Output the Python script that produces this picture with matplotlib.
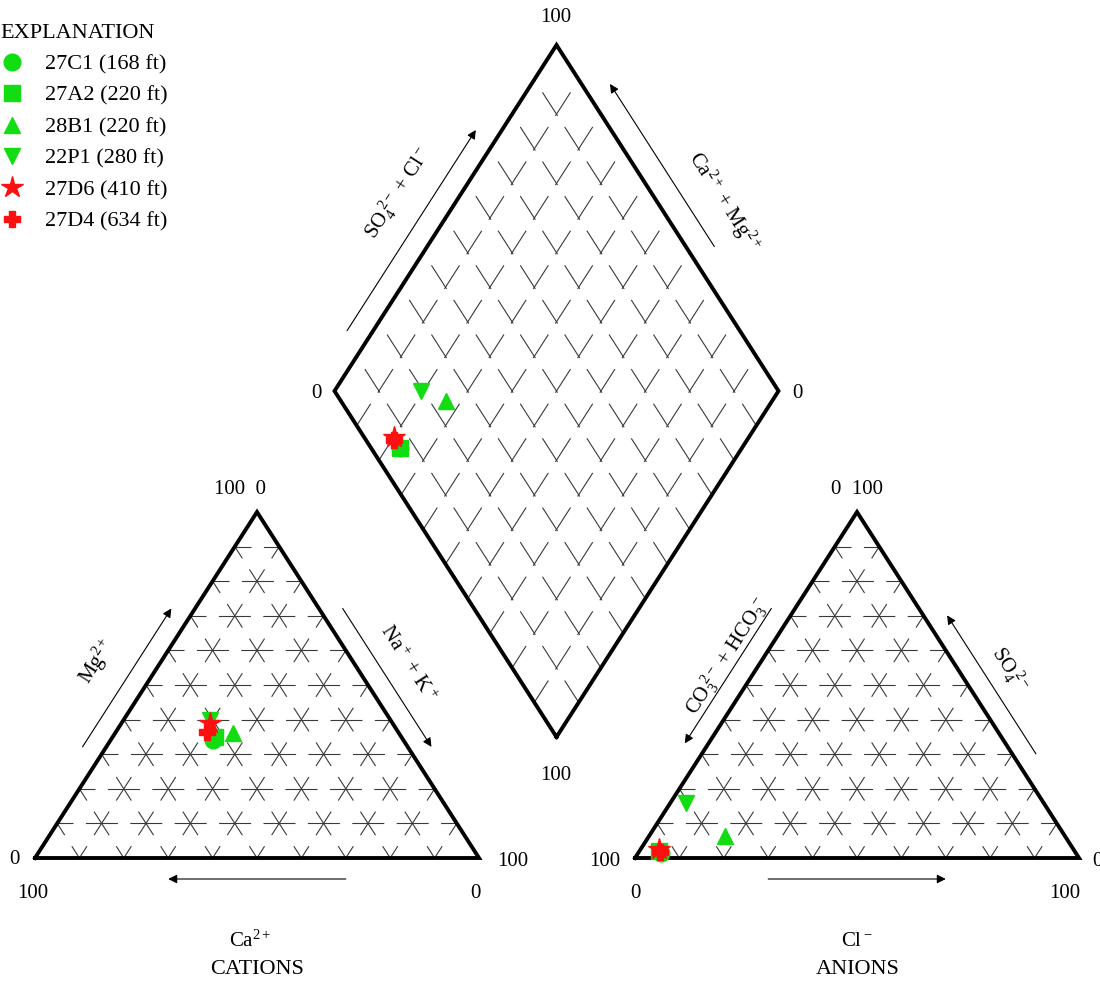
import matplotlib
matplotlib.use('Agg')
import matplotlib.pyplot as plt
from matplotlib.lines import Line2D
import numpy as np

# Datos de las muestras (porcentajes de meq/L)
samples = ['27C1 (168 ft)', '27A2 (220 ft)', '28B1 (220 ft)', '22P1 (280 ft)', '27D6 (410 ft)', '27D4 (634 ft)']
ca = [43.0, 42.0, 37.5, 40.5, 41.0, 43.0]
mg = [34.0, 35.0, 36.0, 40.0, 39.0, 36.5]
na_k = [23.0, 23.0, 26.5, 19.5, 20.0, 20.5]
cl = [5.0, 4.5, 17.0, 3.5, 4.0, 4.7]
so4 = [1.5, 2.0, 6.5, 16.0, 2.6, 1.7]
hco3 = [93.5, 93.5, 76.5, 80.5, 93.4, 93.6]

markers = ['o', 's', '^', 'v', '*', 'P']
colors = ['#12dd12', '#12dd12', '#12dd12', '#12dd12', '#ff1010', '#ff1010']
msizes = [12, 12, 11, 11, 16, 12]

# Geometria (pixeles)
W = 444.0
H = 346.0
TL = (35.0, 858.0)    # vertice inferior izquierdo, triangulo de cationes
TR = (635.0, 858.0)   # vertice inferior izquierdo, triangulo de aniones
DB = (556.5, 737.0)   # vertice inferior del rombo

plt.rcParams['font.family'] = ['Liberation Serif', 'DejaVu Serif']
plt.rcParams['mathtext.fontset'] = 'custom'
plt.rcParams['mathtext.rm'] = 'Liberation Serif'
plt.rcParams['mathtext.it'] = 'Liberation Serif:italic'
plt.rcParams['lines.scale_dashes'] = False


def cat_xy(n, m):
    return TL[0] + W * (n + m / 2) / 100, TL[1] - H * m / 100


def an_xy(c, s):
    return TR[0] + W * (c + s / 2) / 100, TR[1] - H * s / 100


def dia_xy(a, c):
    return DB[0] + (a - c) * W / 2 / 100, DB[1] - (a + c) * H / 100


fig = plt.figure(figsize=(11, 9.85), dpi=100)
ax = fig.add_axes([0, 0, 1, 1])
ax.set_xlim(0, 1100)
ax.set_ylim(985, 0)
ax.axis('off')

px = 0.72  # puntos por pixel
slant = np.hypot(W / 20, H / 10)
dash_h = (16 * px, (32 * px, (W / 10 - 32) * px))
dash_s = (14 * px, (28 * px, (slant - 28) * px))
dash_d = (2 * px, (28 * px, (slant - 28) * px))
gkw = dict(color='#3a3a3a', lw=0.8)

# Rejillas de los triangulos
for xy in (cat_xy, an_xy):
    for i in range(10, 100, 10):
        # horizontal
        p, q = xy(0, i), xy(100 - i, i)
        ax.plot([p[0], q[0]], [p[1], q[1]], ls=dash_h, **gkw)
        # paralela al lado izquierdo
        p, q = xy(i, 0), xy(i, 100 - i)
        ax.plot([p[0], q[0]], [p[1], q[1]], ls=dash_s, **gkw)
        # paralela al lado derecho
        p, q = xy(0, i), xy(i, 0)
        ax.plot([q[0], p[0]], [q[1], p[1]], ls=dash_s, **gkw)
    corners = [xy(0, 0), xy(100, 0), xy(0, 100), xy(0, 0)]
    ax.plot([c[0] for c in corners], [c[1] for c in corners], color='k', lw=2.8,
            solid_joinstyle='miter')

# Rejilla del rombo
for i in range(10, 100, 10):
    p, q = dia_xy(i, 0), dia_xy(i, 100)
    ax.plot([p[0], q[0]], [p[1], q[1]], ls=dash_d, **gkw)
    p, q = dia_xy(0, i), dia_xy(100, i)
    ax.plot([p[0], q[0]], [p[1], q[1]], ls=dash_d, **gkw)
corners = [dia_xy(0, 0), dia_xy(100, 0), dia_xy(100, 100), dia_xy(0, 100), dia_xy(0, 0)]
ax.plot([c[0] for c in corners], [c[1] for c in corners], color='k', lw=2.8,
        solid_joinstyle='miter')


def edge_arrow(p, q, t0, t1, d):
    # flecha paralela al lado p->q, desplazada d pixeles hacia fuera
    p, q = np.array(p), np.array(q)
    v = q - p
    n = np.array([v[1], -v[0]]) / np.hypot(*v)
    a = p + t0 * v + d * n
    b = p + t1 * v + d * n
    ax.annotate('', xy=b, xytext=a,
                arrowprops=dict(arrowstyle='-|>', lw=0.8, color='k',
                                mutation_scale=13, shrinkA=0, shrinkB=0))


# Flechas
edge_arrow(cat_xy(0, 0), cat_xy(0, 100), 0.29, 0.69, 20)
edge_arrow(cat_xy(0, 100), cat_xy(100, 0), 0.31, 0.71, 20)
edge_arrow(cat_xy(100, 0), cat_xy(0, 0), 0.30, 0.70, 21)
edge_arrow(an_xy(0, 100), an_xy(0, 0), 0.31, 0.70, -20)
edge_arrow(an_xy(100, 0), an_xy(0, 100), 0.27, 0.67, -20)
edge_arrow(an_xy(0, 0), an_xy(100, 0), 0.30, 0.70, -21)
edge_arrow(dia_xy(0, 100), dia_xy(100, 100), 0.14, 0.72, 22)
edge_arrow(dia_xy(100, 0), dia_xy(100, 100), 0.38, 0.85, -24)

# Etiquetas de los ejes
tk = dict(fontsize=15, ha='center', va='center')
ax.text(240, 489, '100  0', **tk)
ax.text(14, 860, '0', **tk)
ax.text(33, 893, '100', **tk)
ax.text(513, 862, '100', **tk)
ax.text(475, 893, '0', **tk)
ax.text(857, 489, '0  100', **tk)
ax.text(605, 862, '100', **tk)
ax.text(635, 893, '0', **tk)
ax.text(1097, 862, '0', **tk)
ax.text(1065, 893, '100', **tk)
ax.text(556, 18, '100', **tk)
ax.text(316, 393, '0', **tk)
ax.text(797, 393, '0', **tk)
ax.text(556, 775, '100', **tk)

lk = dict(fontsize=15, ha='center', va='center')
ax.text(97, 662, r'Mg$^{2+}$', rotation=57.3, rotation_mode='anchor', **lk)
ax.text(407, 664, r'Na$^+$ + K$^+$', rotation=-57.3, rotation_mode='anchor', **lk)
ax.text(250, 941, r'Ca$^{2+}$', **lk)
ax.text(257, 970, 'CATIONS', fontsize=16, ha='center', va='center')
ax.text(857, 941, r'Cl$^-$', **lk)
ax.text(858, 970, 'ANIONS', fontsize=16, ha='center', va='center')
ax.text(398, 193, r'SO$_4^{\ 2-}$ + Cl$^-$', rotation=57.3, rotation_mode='anchor', **lk)
ax.text(724, 202, r'Ca$^{2+}$ + Mg$^{2+}$', rotation=-57.3, rotation_mode='anchor', **lk)
ax.text(727, 656, r'CO$_3^{\ 2-}$ + HCO$_3^{\ -}$', rotation=57.3, rotation_mode='anchor', **lk)
ax.text(1010, 670, r'SO$_4^{\ 2-}$', rotation=-57.3, rotation_mode='anchor', **lk)

# Puntos
for k in range(len(samples)):
    a = cl[k] + so4[k]
    c = ca[k] + mg[k]
    pts = [cat_xy(na_k[k], mg[k]), an_xy(cl[k], so4[k]), dia_xy(a, c)]
    ax.plot([p[0] for p in pts], [p[1] for p in pts], ls='', marker=markers[k],
            color=colors[k], ms=msizes[k], mec=colors[k], zorder=5 + k)

# Leyenda
handles = [Line2D([], [], ls='', marker=markers[k], color=colors[k], ms=msizes[k])
           for k in range(len(samples))]
leg = ax.legend(handles, samples, loc='upper left', bbox_to_anchor=(0.5 / 1100, 1 - 24 / 985),
                bbox_transform=fig.transFigure, frameon=False, title='EXPLANATION',
                fontsize=16, title_fontsize=16, alignment='left', borderpad=0,
                handlelength=1.0, handletextpad=1.0, labelspacing=0.49,
                borderaxespad=0)

fig.savefig('out.png', dpi=100)
